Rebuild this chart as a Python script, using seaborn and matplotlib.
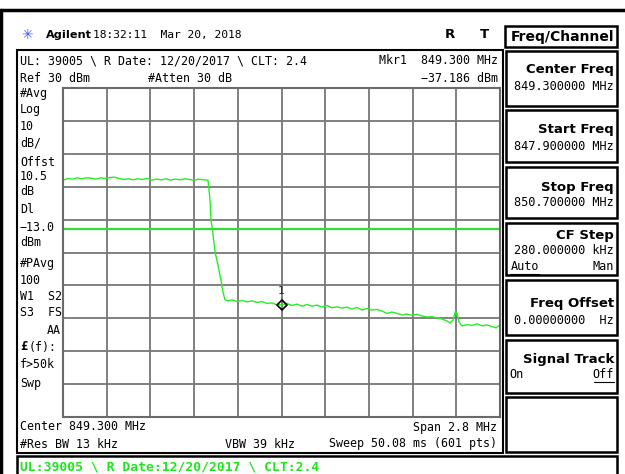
import seaborn as sns
import matplotlib.pyplot as plt
import matplotlib.lines as mlines
from matplotlib.patches import Rectangle
import numpy as np
import pandas as pd

# Trace data, MHz / dBm
freq_mhz = [847.900, 847.930, 847.960, 847.990, 848.020, 848.050, 848.080, 848.110,
            848.140, 848.170, 848.200, 848.230, 848.260, 848.290, 848.320, 848.350,
            848.380, 848.410, 848.440, 848.470, 848.500, 848.530, 848.560, 848.590,
            848.620, 848.650, 848.680, 848.710, 848.740, 848.770, 848.800, 848.829,
            848.842, 848.848, 848.858, 848.874, 848.893, 848.912, 848.925, 848.938,
            848.957, 848.983, 849.015, 849.047, 849.079, 849.111, 849.143, 849.175,
            849.207, 849.239, 849.265, 849.300, 849.335, 849.367, 849.399, 849.431,
            849.463, 849.495, 849.527, 849.559, 849.591, 849.623, 849.655, 849.688,
            849.720, 849.752, 849.784, 849.816, 849.848, 849.880, 849.912, 849.944,
            849.976, 850.008, 850.040, 850.072, 850.104, 850.136, 850.168, 850.200,
            850.232, 850.264, 850.296, 850.328, 850.360, 850.380, 850.399, 850.415,
            850.425, 850.438, 850.457, 850.489, 850.521, 850.553, 850.585, 850.617,
            850.649, 850.675, 850.700]
level_dbm = [1.9, 2.5, 2.3, 2.7, 2.4, 2.7, 2.6, 2.3, 2.7, 2.5, 2.8, 2.9, 2.5,
             2.2, 2.4, 2.1, 2.4, 2.2, 2.5, 2.0, 2.3, 2.1, 2.4, 2.0, 2.3, 2.1,
             2.4, 2.2, 2.0, 2.3, 2.1, 2.0,
             -4.0, -10.1, -13.2, -19.8, -23.8, -28.4, -32.0, -34.4,
             -34.7, -34.4, -34.9, -34.6, -35.0, -34.7, -35.2, -34.9,
             -35.5, -35.3, -35.8, -35.9, -35.5, -36.1, -35.7, -36.3,
             -35.8, -36.3, -36.0, -36.6, -36.1, -36.8, -36.5, -36.9,
             -36.6, -37.2, -36.7, -37.5, -37.0, -37.5, -37.3, -37.8,
             -38.5, -38.1, -38.5, -39.0, -38.7, -39.1, -38.8, -39.3,
             -39.6, -39.5, -39.9, -40.2, -40.8, -41.4, -40.5, -37.8,
             -38.7, -41.2, -42.3, -41.9, -42.2, -41.7, -42.3, -42.0,
             -42.5, -42.9, -42.0]

center_mhz = 849.300
span_mhz = 2.8
ref_dbm = 30
db_per_div = 10
display_line_dbm = -13.0
marker_freq = 849.300
marker_text = "\u221237.186 dBm"

left_labels = [("#Avg", 94), ("Log", 110), ("10", 127), ("dB/", 143),
               ("Offst", 162), ("10.5", 177), ("dB", 192), ("Dl", 210),
               ("\u221213.0", 227), ("dBm", 243), ("#PAvg", 264), ("100", 280),
               ("W1  S2", 297), ("S3  FS", 313), ("f>50k", 365), ("Swp", 383)]

# title, value, box top, box bottom, title y, value y
softkeys = [("Center Freq", "849.300000 MHz", 51, 106, 70, 86),
            ("Start Freq", "847.900000 MHz", 110, 162, 130, 147),
            ("Stop Freq", "850.700000 MHz", 167, 218, 187, 202),
            ("CF Step", "280.000000 kHz", 223, 275, 235, 250),
            ("Freq Offset", "0.00000000  Hz", 280, 335, 303, 320),
            ("Signal Track", "", 340, 393, 359, 0),
            ("", "", 397, 452, 0, 0)]

W, H = 625, 474
sns.set_style("white")
plt.rcParams["font.family"] = ["DejaVu Sans"]
fig = plt.figure(figsize=(W / 100, H / 100), dpi=100)

MONO = "DejaVu Sans Mono"
SANS = "DejaVu Sans"


def fx(x):
    return x / W


def fy(y):
    return 1 - y / H


def txt(x, y, s, ha="left", size=8.4, weight="normal", color="black", family=MONO):
    fig.text(fx(x), fy(y), s, ha=ha, va="center", fontsize=size,
             fontweight=weight, color=color, family=family)


def box(x0, y0, x1, y1, lw=1.5, ec="black"):
    fig.add_artist(Rectangle((fx(x0), fy(y1)), (x1 - x0) / W, (y1 - y0) / H,
                             transform=fig.transFigure, fill=False, lw=lw, ec=ec))


def hline(x0, x1, y, lw=1.0, color="black"):
    fig.add_artist(mlines.Line2D([fx(x0), fx(x1)], [fy(y), fy(y)],
                                 transform=fig.transFigure, lw=lw, color=color))


# outer frame
hline(0, W, 10, lw=2.5)
fig.add_artist(mlines.Line2D([fx(1), fx(1)], [fy(10), fy(H)],
                             transform=fig.transFigure, lw=2.5, color="black"))

# header
fig.text(fx(27), fy(35), "\u2733", ha="center", va="center", fontsize=10,
         color="#3a5cff", family=SANS)
txt(46, 35, "Agilent", size=8.1, weight="bold", family=SANS)
txt(93, 35, "18:32:11  Mar 20, 2018", size=8.1)
txt(450, 35, "R", ha="center", size=9.5, weight="bold", family=SANS)
txt(484, 35, "T", ha="center", size=9.5, weight="bold", family=SANS)
box(505, 26, 617, 47, lw=1.8)
txt(614, 36.5, "Freq/Channel", ha="right", size=10, weight="bold", family=SANS)

# display frame
box(17, 50, 503, 453, lw=1.5)
txt(20, 61, "UL: 39005 \\ R Date: 12/20/2017 \\ CLT: 2.4")
txt(498, 61, "Mkr1  849.300 MHz", ha="right")
txt(498, 78, marker_text, ha="right")
txt(20, 78, "Ref 30 dBm")
txt(148, 78, "#Atten 30 dB")
for s, y in left_labels:
    txt(20, y, s)
txt(20, 347, "\u00a3", weight="bold", size=8.6)
txt(29, 348, "(f):")
txt(61, 331, "AA", ha="right")
txt(20, 427, "Center 849.300 MHz")
txt(20, 444, "#Res BW 13 kHz")
txt(225, 444, "VBW 39 kHz")
txt(497, 427, "Span 2.8 MHz", ha="right")
txt(497, 444, "Sweep 50.08 ms (601 pts)", ha="right")

# green status line
box(17, 456, 617, 480, lw=1.8)
txt(20, 467, "UL:39005 \\ R Date:12/20/2017 \\ CLT:2.4", size=9.4,
    weight="bold", color="#1ee61e")

# softkeys
for title, value, y0, y1, ty, vy in softkeys:
    box(506, y0, 617, y1, lw=1.8)
    if title:
        txt(614, ty, title, ha="right", size=9.5, weight="bold", family=SANS)
    if value:
        txt(614, vy, value, ha="right", size=8.6)
txt(511, 267, "Auto", size=8.6)
hline(510, 539, 274, lw=0.8)
txt(614, 267, "Man", ha="right", size=8.6)
txt(509, 375, "On", size=8.6)
txt(614, 375, "Off", ha="right", size=8.6)
hline(594, 614, 382, lw=0.8)

# graticule and trace
ax = fig.add_axes([fx(63), fy(417), 437 / W, 329 / H])
df = pd.DataFrame({"freq": freq_mhz, "level": level_dbm})
x0 = center_mhz - span_mhz / 2
x1 = center_mhz + span_mhz / 2
ax.set_xlim(x0, x1)
ax.set_ylim(ref_dbm - 10 * db_per_div, ref_dbm)
ax.set_xticks(np.linspace(x0, x1, 11))
ax.set_yticks(np.linspace(ref_dbm - 10 * db_per_div, ref_dbm, 11))
ax.tick_params(length=0, labelbottom=False, labelleft=False)
ax.grid(True, color="#767676", lw=1.3)
for sp in ax.spines.values():
    sp.set_color("#6a6a6a")
    sp.set_linewidth(1.5)

ax.axhline(display_line_dbm, color="#33dd33", lw=1.6)
sns.lineplot(data=df, x="freq", y="level", ax=ax, color="#22f022", lw=1.0,
             estimator=None, sort=False)
mk_level = df.loc[(df["freq"] - marker_freq).abs().idxmin(), "level"]
ax.plot([marker_freq], [mk_level], marker="D", ms=5, mfc="none", mec="black",
        mew=1.2)
ax.annotate("1", (marker_freq, mk_level), xytext=(0, 6), textcoords="offset points",
            ha="center", va="bottom", fontsize=8, family=MONO)
ax.set_xlabel("")
ax.set_ylabel("")

fig.savefig("out.png", dpi=100)
